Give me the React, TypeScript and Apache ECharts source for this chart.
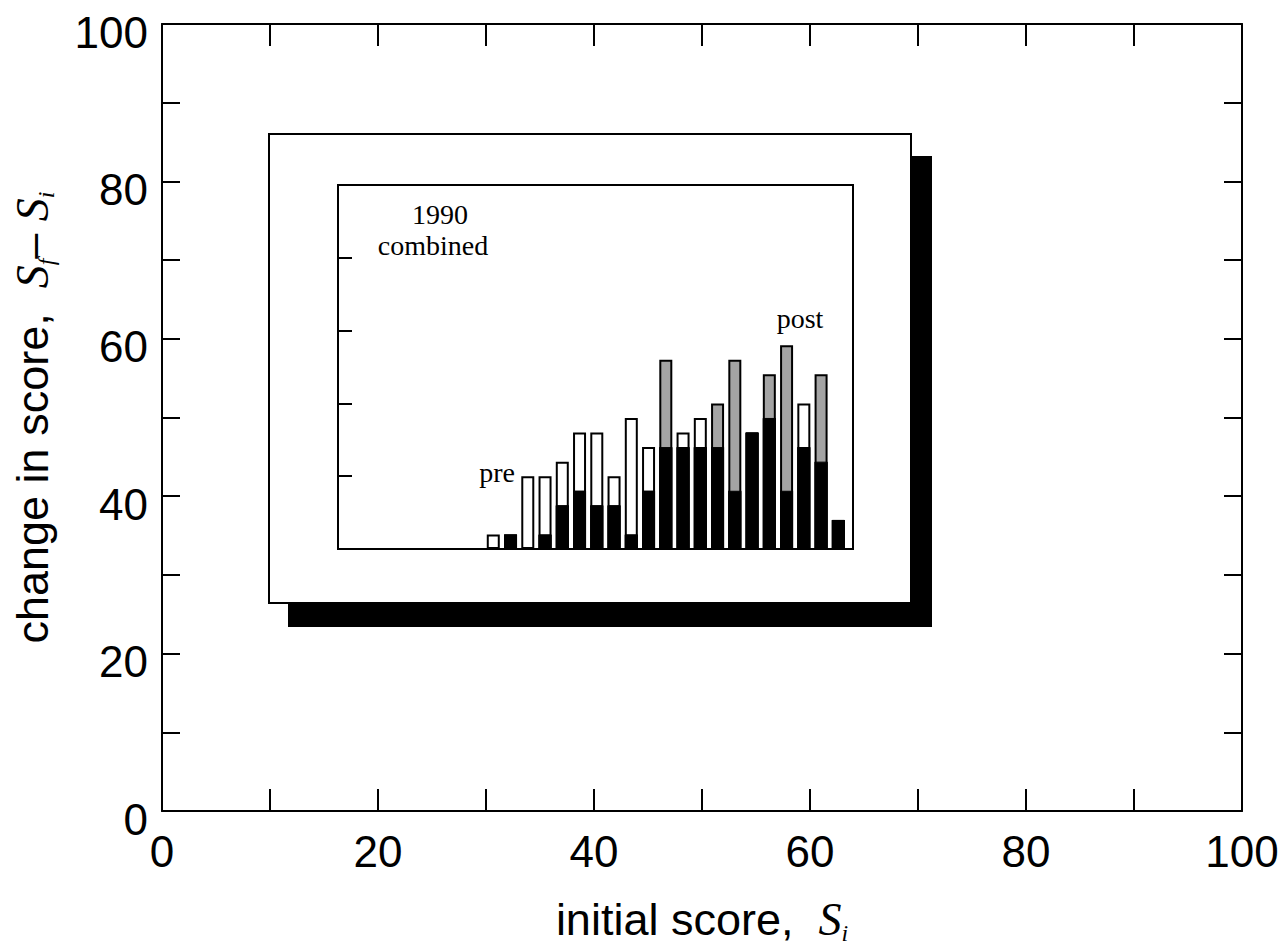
import React, { useEffect, useRef } from "react";
import * as echarts from "echarts";

// outer axes
const outerTickLabels = [0, 20, 40, 60, 80, 100];

// inset histogram: bin positions and bar heights (inset units)
const binScores = [9, 10, 11, 12, 13, 14, 15, 16, 17, 18, 19, 20, 21, 22, 23, 24, 25, 26, 27, 28, 29];
const preHeights = [0.2, 0.2, 1.0, 1.0, 1.2, 1.6, 1.6, 1.0, 1.8, 1.4, 1.4, 1.6, 1.8, 1.4, 0.8, 1.6, 1.8, 0.8, 2.0, 1.2, 0.4];
const postHeights = [0, 0.2, 0, 0.2, 0.6, 0.8, 0.6, 0.6, 0.2, 0.8, 2.6, 1.4, 1.4, 2.0, 2.6, 1.6, 2.4, 2.8, 1.4, 2.4, 0.4];
const overlapHeights = [0, 0.2, 0, 0.2, 0.6, 0.8, 0.6, 0.6, 0.2, 0.8, 1.4, 1.4, 1.4, 1.4, 0.8, 1.6, 1.8, 0.8, 1.4, 1.2, 0.4];

const toData = (arr: number[]) => arr.map((v, i) => [binScores[i], v === 0 ? "-" : v]);

export default function App() {
  const ref = useRef<HTMLDivElement>(null);
  useEffect(() => {
    if (!ref.current) return;
    const chart = echarts.init(ref.current, null, { renderer: "svg" });
    const sans = "Liberation Sans";
    const serif = "Liberation Serif";
    const axisLine = { show: true, onZero: false, lineStyle: { color: "#000", width: 2 } };
    const fmt = (v: number) => (outerTickLabels.includes(v) ? String(v) : "");
    const titleRich = {
      t: { fontSize: 45, fontFamily: sans, color: "#000", lineHeight: 52 },
      s: { fontSize: 46, fontFamily: serif, fontStyle: "italic", color: "#000", lineHeight: 52 },
      b: { fontSize: 24, fontFamily: serif, fontStyle: "italic", color: "#000", lineHeight: 52, verticalAlign: "bottom" },
    };
    const option: any = {
      animation: false,
      backgroundColor: "#fff",
      grid: [
        { left: 162, right: 42, top: 24, bottom: 135 },
        { left: 338, top: 185, width: 515, height: 364 },
      ],
      xAxis: [
        {
          gridIndex: 0, type: "value", min: 0, max: 100, interval: 10, position: "bottom",
          axisLine, splitLine: { show: false },
          axisTick: { inside: true, length: 22, lineStyle: { color: "#000", width: 2 } },
          axisLabel: { formatter: fmt, fontSize: 44, fontFamily: sans, color: "#000", margin: 18 },
          name: "{t|initial score,  }{s|S}{b|i}",
          nameLocation: "middle", nameGap: 82,
          nameTextStyle: { rich: titleRich },
        },
        {
          gridIndex: 0, type: "value", min: 0, max: 100, interval: 10, position: "top",
          axisLine, splitLine: { show: false },
          axisTick: { inside: true, length: 22, lineStyle: { color: "#000", width: 2 } },
          axisLabel: { show: false },
        },
        {
          gridIndex: 1, type: "value", min: 0, max: 29.85, z: 5,
          axisLine: { show: false }, axisTick: { show: false }, axisLabel: { show: false }, splitLine: { show: false },
        },
      ],
      yAxis: [
        {
          gridIndex: 0, type: "value", min: 0, max: 100, interval: 10, position: "left",
          axisLine, splitLine: { show: false },
          axisTick: { inside: true, length: 18, lineStyle: { color: "#000", width: 2 } },
          axisLabel: { formatter: fmt, fontSize: 44, fontFamily: sans, color: "#000", margin: 14, verticalAlign: "top", lineHeight: 16 },
          name: "{t|change in score,  }{s|S}{b|f}{t|– }{s|S}{b|i}",
          nameLocation: "middle", nameGap: 104,
          nameTextStyle: { rich: titleRich },
        },
        {
          gridIndex: 0, type: "value", min: 0, max: 100, interval: 10, position: "right",
          axisLine, splitLine: { show: false },
          axisTick: { inside: true, length: 18, lineStyle: { color: "#000", width: 2 } },
          axisLabel: { show: false },
        },
        {
          gridIndex: 1, type: "value", min: 0, max: 5, interval: 1, z: 5,
          axisLine: { show: false, onZero: false }, splitLine: { show: false }, axisLabel: { show: false },
          axisTick: { inside: true, length: 14, lineStyle: { color: "#000", width: 2 } },
        },
      ],
      graphic: [
        { type: "rect", z: 1, shape: { x: 288, y: 156, width: 644, height: 471 }, style: { fill: "#000" } },
        { type: "rect", z: 1, shape: { x: 269, y: 134, width: 642, height: 469 }, style: { fill: "#fff", stroke: "#000", lineWidth: 2 } },
        { type: "rect", z: 10, shape: { x: 338, y: 185, width: 515, height: 364 }, style: { fill: "none", stroke: "#000", lineWidth: 2 } },
        { type: "text", z: 11, x: 440, y: 214, style: { text: "1990", font: `28px ${serif}`, fill: "#000", align: "center", verticalAlign: "middle" } },
        { type: "text", z: 11, x: 433, y: 245, style: { text: "combined", font: `28px ${serif}`, fill: "#000", align: "center", verticalAlign: "middle" } },
        { type: "text", z: 11, x: 497, y: 472, style: { text: "pre", font: `28px ${serif}`, fill: "#000", align: "center", verticalAlign: "middle" } },
        { type: "text", z: 11, x: 800, y: 318, style: { text: "post", font: `28px ${serif}`, fill: "#000", align: "center", verticalAlign: "middle" } },
      ],
      series: [
        {
          name: "pre", type: "bar", xAxisIndex: 2, yAxisIndex: 2, barWidth: 13, barGap: "-100%", z: 5,
          itemStyle: { color: "#fff", borderColor: "#000", borderWidth: 2 }, data: toData(preHeights),
        },
        {
          name: "post", type: "bar", xAxisIndex: 2, yAxisIndex: 2, barWidth: 13, barGap: "-100%", z: 6,
          itemStyle: { color: "#a4a4a4", borderColor: "#000", borderWidth: 2 }, data: toData(postHeights),
        },
        {
          name: "both", type: "bar", xAxisIndex: 2, yAxisIndex: 2, barWidth: 13, barGap: "-100%", z: 7,
          itemStyle: { color: "#000", borderColor: "#000", borderWidth: 1 }, data: toData(overlapHeights),
        },
      ],
    };
    chart.setOption(option);
    return () => chart.dispose();
  }, []);
  return <div ref={ref} style={{ position: "fixed", left: 0, top: 0, width: 1284, height: 950 }} />;
}
